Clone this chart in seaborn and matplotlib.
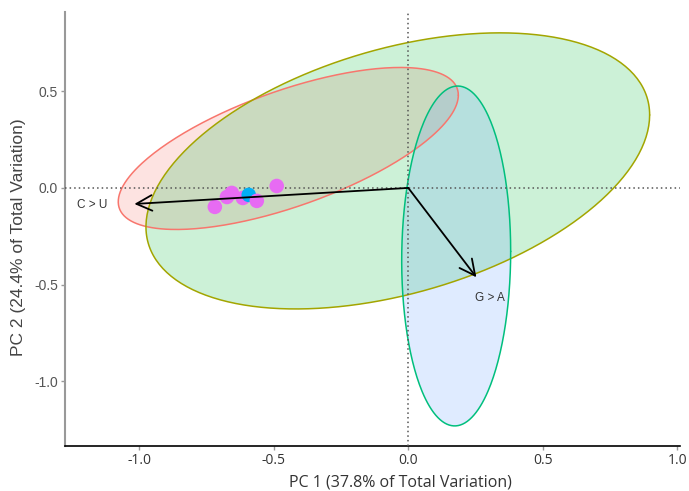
import numpy as np
import pandas as pd
import matplotlib
matplotlib.use("Agg")
import matplotlib.pyplot as plt
import seaborn as sns

# sample scores on PC1 / PC2
pc1 = [-0.719, -0.674, -0.656, -0.615, -0.593, -0.563, -0.489]
pc2 = [-0.098, -0.047, -0.026, -0.052, -0.036, -0.067, 0.010]
group = ["a", "a", "a", "a", "b", "a", "a"]

# loadings (arrows)
load_names = ["C > U", "G > A"]
load_pc1 = [-1.018, 0.253]
load_pc2 = [-0.083, -0.462]
label_pc1 = [-1.176, 0.303]
label_pc2 = [-0.088, -0.569]

# confidence ellipses: centre, half-range in x / y, correlation
ell_cx = [-0.446, -0.039, 0.178]
ell_cy = [0.204, 0.088, -0.352]
ell_sx = [0.632, 0.936, 0.2025]
ell_sy = [0.419, 0.714, 0.879]
ell_r = [0.658, 0.405, 0.0275]
ell_fill = ["#F8766D", "#00BA38", "#619CFF"]
ell_edge = ["#F8766D", "#A3A500", "#00BF7D"]

df = pd.DataFrame({"PC1": pc1, "PC2": pc2, "group": group})

sns.set_theme(style="white")
fig = plt.figure(figsize=(6.89, 4.91), dpi=100)
ax = fig.add_axes([0.0943, 0.0916, 0.8927, 0.884])

t = np.linspace(0, 2 * np.pi, 300)
for cx, cy, sx, sy, r, fc, ec in zip(ell_cx, ell_cy, ell_sx, ell_sy, ell_r, ell_fill, ell_edge):
    ex = cx + sx * np.cos(t)
    ey = cy + sy * (r * np.cos(t) + np.sqrt(1 - r ** 2) * np.sin(t))
    ax.fill(ex, ey, facecolor=fc, alpha=0.2, edgecolor="none", zorder=1)
    ax.plot(ex, ey, color=ec, lw=1.1, zorder=2)

ax.axhline(0, color="#555555", ls=(0, (1, 2)), lw=1.1, zorder=3)
ax.axvline(0, color="#555555", ls=(0, (1, 2)), lw=1.1, zorder=3)

sns.scatterplot(data=df, x="PC1", y="PC2", hue="group",
                palette={"a": "#E76BF3", "b": "#00B0F6"},
                s=110, edgecolor="none", legend=False, ax=ax, zorder=4)

for name, lx, ly, tx, ty in zip(load_names, load_pc1, load_pc2, label_pc1, label_pc2):
    ax.annotate("", xy=(lx, ly), xytext=(0, 0),
                arrowprops=dict(arrowstyle="->", color="black", lw=1.3,
                                mutation_scale=28, shrinkA=0, shrinkB=0),
                zorder=5)
    ax.text(tx, ty, name, fontsize=8.5, color="#333333", ha="center", va="center",
            family="Liberation Sans")

ax.set_xlim(-1.276, 1.01)
ax.set_ylim(-1.335, 0.91)
ax.set_xticks([-1.0, -0.5, 0.0, 0.5, 1.0])
ax.set_yticks([-1.0, -0.5, 0.0, 0.5])
ax.set_xticklabels(["-1.0", "-0.5", "0.0", "0.5", "1.0"], family="Open Sans", fontsize=10, color="#333333")
ax.set_yticklabels(["-1.0", "-0.5", "0.0", "0.5"], family="Liberation Sans", fontsize=10, color="#555555")
ax.set_xlabel("PC 1 (37.8% of Total Variation)", family="Open Sans", fontsize=11.5, color="#333333")
ax.set_ylabel("PC 2 (24.4% of Total Variation)", family="Liberation Sans", fontsize=12.5, color="#444444")
ax.xaxis.set_label_coords(0.545, -0.065)
ax.yaxis.set_label_coords(-0.064, 0.48)

sns.despine(ax=ax)
ax.spines["left"].set_color("#999999")
ax.spines["left"].set_linewidth(1.5)
ax.spines["bottom"].set_color("black")
ax.spines["bottom"].set_linewidth(1.2)
ax.tick_params(axis="both", length=3, width=1, color="#999999", pad=2)
ax.tick_params(axis="both", which="both", bottom=True, left=True)

fig.savefig("out.png", dpi=100)
